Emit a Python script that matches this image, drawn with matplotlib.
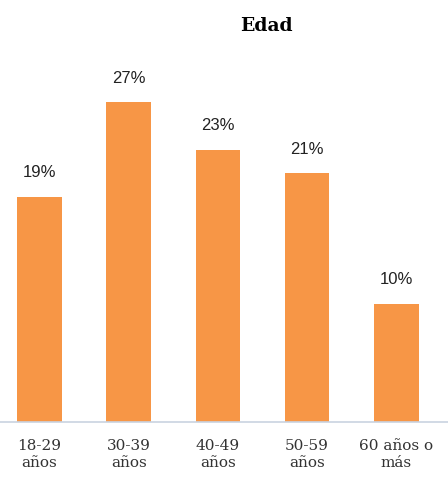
import matplotlib
matplotlib.use("Agg")
import matplotlib.pyplot as plt

categories = ["18-29\naños", "30-39\naños", "40-49\naños", "50-59\naños", "60 años o\nmás"]
values = [19, 27, 23, 21, 10]

fig = plt.figure(figsize=(4.48, 4.97), dpi=100)
ax = fig.add_axes([0.0, 1 - 422 / 497, 1.0, (422 - 55) / 497])

x = range(len(values))
ax.bar(x, values, width=0.5, color="#F79646")
for i, v in enumerate(values):
    ax.text(i, v + 1.4, f"{v}%", ha="center", va="bottom", fontsize=12,
            family="Liberation Sans", color="#222222")

ax.set_xlim(-0.443, 4.58)
ax.set_ylim(0, 31)
ax.set_yticks([])
ax.set_xticks(list(x))
ax.set_xticklabels(categories, family="DejaVu Serif", fontsize=11, color="#333333",
                   linespacing=1.3)
ax.tick_params(axis="x", length=0, pad=12)
for s in ["top", "right", "left"]:
    ax.spines[s].set_visible(False)
ax.spines["bottom"].set_color("#C9D3E0")
ax.spines["bottom"].set_linewidth(1.2)

fig.text(0.5 + 42 / 448, 1 - 26 / 497, "Edad", ha="center", va="center",
         fontsize=13.5, fontweight="bold", family="DejaVu Serif")

fig.savefig("out.png", dpi=100)
